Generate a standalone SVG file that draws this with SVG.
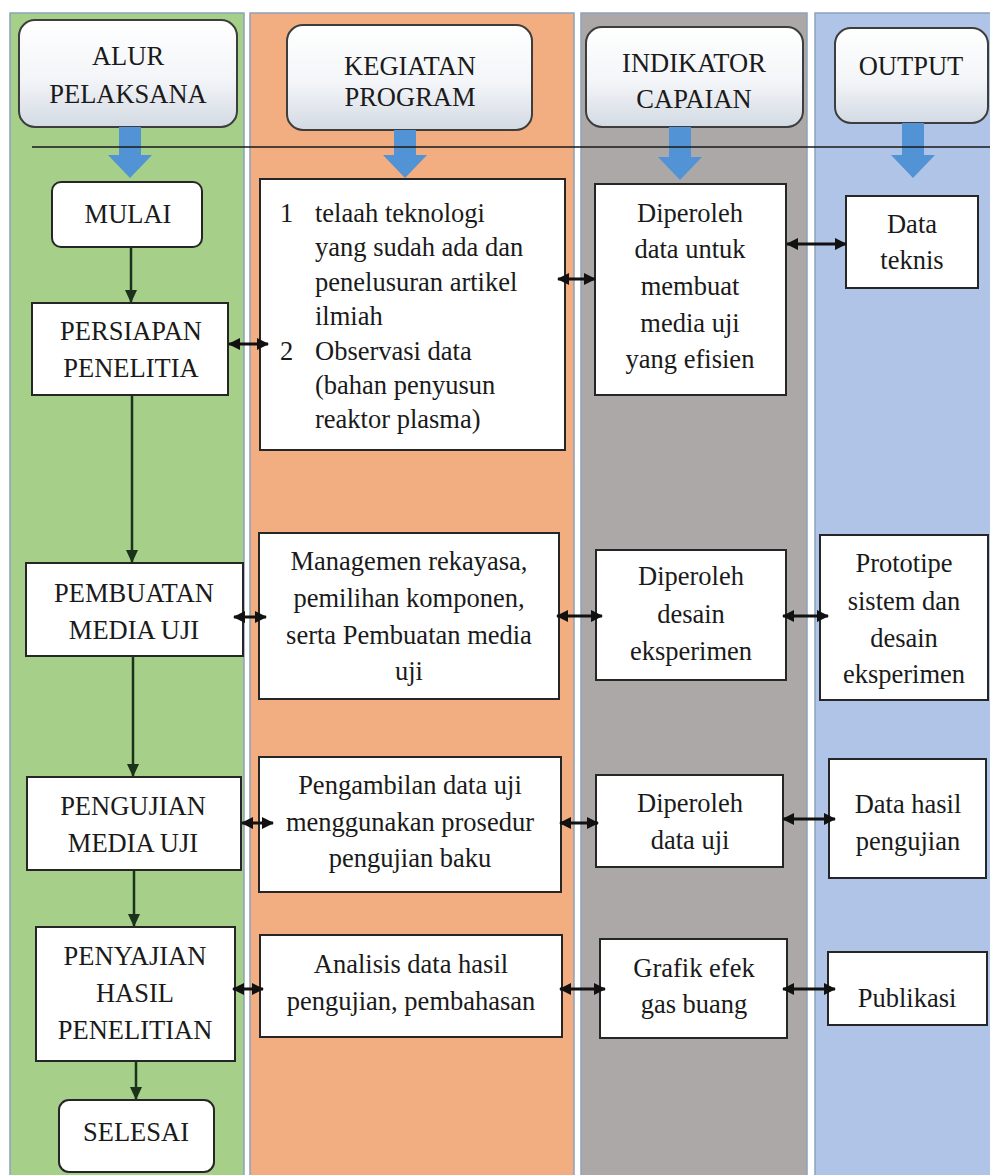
<svg xmlns="http://www.w3.org/2000/svg" width="990" height="1175" viewBox="0 0 990 1175">
<defs>
<linearGradient id="hg" x1="0" y1="0" x2="0" y2="1">
<stop offset="0" stop-color="#ffffff"/>
<stop offset="0.55" stop-color="#f3f5f8"/>
<stop offset="1" stop-color="#d3dae3"/>
</linearGradient>
<marker id="ah" markerWidth="13" markerHeight="12" refX="13" refY="6" orient="auto" markerUnits="userSpaceOnUse"><path d="M0,0 L13,6 L0,12 Z" fill="#1b321b"/></marker>
<marker id="ah2" markerWidth="12" markerHeight="12" refX="11" refY="6" orient="auto-start-reverse" markerUnits="userSpaceOnUse"><path d="M0,0 L12,6 L0,12 Z" fill="#111"/></marker>
</defs>
<style>
.col{stroke:#8aa2bb;stroke-width:1.5}
.hdr{fill:url(#hg);stroke:#3d3d3d;stroke-width:2}
.box{fill:#fff;stroke:#262626;stroke-width:2}
.t{font-family:'Liberation Serif','Tinos','DejaVu Serif',serif;font-size:26.5px;fill:#1a1a1a;text-anchor:middle}
.tl{text-anchor:start}
.flow{stroke:#1b321b;stroke-width:2.5;fill:none;marker-end:url(#ah)}
.dbl{stroke:#111;stroke-width:3;fill:none;marker-start:url(#ah2);marker-end:url(#ah2)}
.blue{fill:#5293d6}
</style>
<rect width="990" height="1175" fill="#ffffff"/>
<g id="columns">
<rect class="col" x="10" y="13" width="234" height="1170" fill="#a6cf8a"/>
<rect class="col" x="250" y="13" width="324" height="1170" fill="#f2ad80"/>
<rect class="col" x="581" y="13" width="226" height="1170" fill="#aca8a7"/>
<rect class="col" x="815" y="13" width="185" height="1170" fill="#afc4e6"/>
</g>
<g id="headers" font-family="Liberation Serif, serif">
<g id="h-alur"><rect class="hdr" x="19" y="20" width="218" height="107" rx="16"/><text class="t" x="128" y="65">ALUR</text><text class="t" x="128" y="103">PELAKSANA</text></g>
<g id="h-kegiatan"><rect class="hdr" x="287" y="25" width="245" height="105" rx="16"/><text class="t" x="410" y="75">KEGIATAN</text><text class="t" x="410" y="106">PROGRAM</text></g>
<g id="h-indikator"><rect class="hdr" x="586" y="27" width="217" height="100" rx="16"/><text class="t" x="694" y="72">INDIKATOR</text><text class="t" x="694" y="108">CAPAIAN</text></g>
<g id="h-output"><rect class="hdr" x="835" y="28" width="153" height="95" rx="16"/><text class="t" x="911" y="75">OUTPUT</text></g>
</g>
<g id="blue-arrows">
<path class="blue" d="M119,127 H141 V155 H152 L130,178 L108,155 H119 Z"/>
<path class="blue" d="M394,130 H416 V155 H427 L405,178 L383,155 H394 Z"/>
<path class="blue" d="M669,127 H691 V157 H702 L680,180 L658,157 H669 Z"/>
<path class="blue" d="M902,123 H924 V155 H935 L913,178 L891,155 H902 Z"/>
</g>
<line x1="32" y1="147" x2="990" y2="147" stroke="#1a1a1a" stroke-width="1.6"/>
<g id="n-mulai"><rect class="box" x="52" y="182" width="150" height="65" rx="9"/><text class="t" x="128" y="223">MULAI</text></g>
<g id="n-persiapan"><rect class="box" x="32" y="303" width="196" height="92"/><text class="t" x="131" y="340">PERSIAPAN</text><text class="t" x="131" y="377">PENELITIA</text></g>
<g id="n-pembuatan"><rect class="box" x="26" y="563" width="217" height="93"/><text class="t" x="134" y="602">PEMBUATAN</text><text class="t" x="134" y="639">MEDIA UJI</text></g>
<g id="n-pengujian"><rect class="box" x="27" y="777" width="214" height="93"/><text class="t" x="133" y="815">PENGUJIAN</text><text class="t" x="133" y="852">MEDIA UJI</text></g>
<g id="n-penyajian"><rect class="box" x="36" y="927" width="199" height="134"/><text class="t" x="135" y="965">PENYAJIAN</text><text class="t" x="135" y="1002">HASIL</text><text class="t" x="135" y="1039">PENELITIAN</text></g>
<g id="n-selesai"><rect class="box" x="59" y="1100" width="155" height="72" rx="10"/><text class="t" x="136" y="1141">SELESAI</text></g>
<g id="k-telaah"><rect class="box" x="260" y="179" width="305" height="271"/>
<text class="t tl" x="280" y="222">1</text><text class="t tl" x="315" y="222">telaah teknologi</text>
<text class="t tl" x="315" y="256">yang sudah ada dan</text>
<text class="t tl" x="315" y="291">penelusuran artikel</text>
<text class="t tl" x="315" y="325">ilmiah</text>
<text class="t tl" x="280" y="360">2</text><text class="t tl" x="315" y="360">Observasi data</text>
<text class="t tl" x="315" y="394">(bahan penyusun</text>
<text class="t tl" x="315" y="428">reaktor plasma)</text></g>
<g id="k-managemen"><rect class="box" x="259" y="533" width="300" height="166"/><text class="t" x="409" y="570">Managemen rekayasa,</text><text class="t" x="409" y="607">pemilihan komponen,</text><text class="t" x="409" y="644">serta Pembuatan media</text><text class="t" x="409" y="680">uji</text></g>
<g id="k-pengambilan"><rect class="box" x="259" y="757" width="302" height="135"/><text class="t" x="410" y="794">Pengambilan data uji</text><text class="t" x="410" y="831">menggunakan prosedur</text><text class="t" x="410" y="867">pengujian baku</text></g>
<g id="k-analisis"><rect class="box" x="260" y="935" width="302" height="102"/><text class="t" x="411" y="973">Analisis data hasil</text><text class="t" x="411" y="1010">pengujian, pembahasan</text></g>
<g id="i-data"><rect class="box" x="595" y="184" width="191" height="211"/><text class="t" x="690" y="222">Diperoleh</text><text class="t" x="690" y="258">data untuk</text><text class="t" x="690" y="295">membuat</text><text class="t" x="690" y="332">media uji</text><text class="t" x="690" y="368">yang efisien</text></g>
<g id="i-desain"><rect class="box" x="596" y="550" width="190" height="130"/><text class="t" x="691" y="585">Diperoleh</text><text class="t" x="691" y="623">desain</text><text class="t" x="691" y="660">eksperimen</text></g>
<g id="i-datauji"><rect class="box" x="596" y="775" width="187" height="92"/><text class="t" x="690" y="812">Diperoleh</text><text class="t" x="690" y="849">data uji</text></g>
<g id="i-grafik"><rect class="box" x="600" y="939" width="187" height="99"/><text class="t" x="694" y="977">Grafik efek</text><text class="t" x="694" y="1013">gas buang</text></g>
<g id="o-teknis"><rect class="box" x="846" y="196" width="132" height="92"/><text class="t" x="912" y="233">Data</text><text class="t" x="912" y="269">teknis</text></g>
<g id="o-prototipe"><rect class="box" x="820" y="535" width="168" height="165"/><text class="t" x="904" y="572">Prototipe</text><text class="t" x="904" y="610">sistem dan</text><text class="t" x="904" y="647">desain</text><text class="t" x="904" y="683">eksperimen</text></g>
<g id="o-hasil"><rect class="box" x="829" y="759" width="157" height="119"/><text class="t" x="908" y="813">Data hasil</text><text class="t" x="908" y="850">pengujian</text></g>
<g id="o-publikasi"><rect class="box" x="828" y="952" width="159" height="73"/><text class="t" x="907" y="1007">Publikasi</text></g>
<g id="connectors">
<line class="flow" x1="131" y1="247" x2="131" y2="303"/>
<line class="flow" x1="132" y1="395" x2="132" y2="563"/>
<line class="flow" x1="133" y1="656" x2="133" y2="777"/>
<line class="flow" x1="134" y1="870" x2="134" y2="927"/>
<line class="flow" x1="136" y1="1061" x2="136" y2="1100"/>
<line class="dbl" x1="229" y1="344" x2="268" y2="344"/>
<line class="dbl" x1="558" y1="279" x2="595" y2="279"/>
<line class="dbl" x1="787" y1="244" x2="846" y2="244"/>
<line class="dbl" x1="234" y1="617" x2="266" y2="617"/>
<line class="dbl" x1="557" y1="616" x2="602" y2="616"/>
<line class="dbl" x1="783" y1="616" x2="828" y2="616"/>
<line class="dbl" x1="242" y1="823" x2="273" y2="823"/>
<line class="dbl" x1="560" y1="823" x2="598" y2="823"/>
<line class="dbl" x1="783" y1="819" x2="835" y2="819"/>
<line class="dbl" x1="233" y1="989" x2="263" y2="989"/>
<line class="dbl" x1="560" y1="989" x2="605" y2="989"/>
<line class="dbl" x1="783" y1="989" x2="835" y2="989"/>
</g>
</svg>
